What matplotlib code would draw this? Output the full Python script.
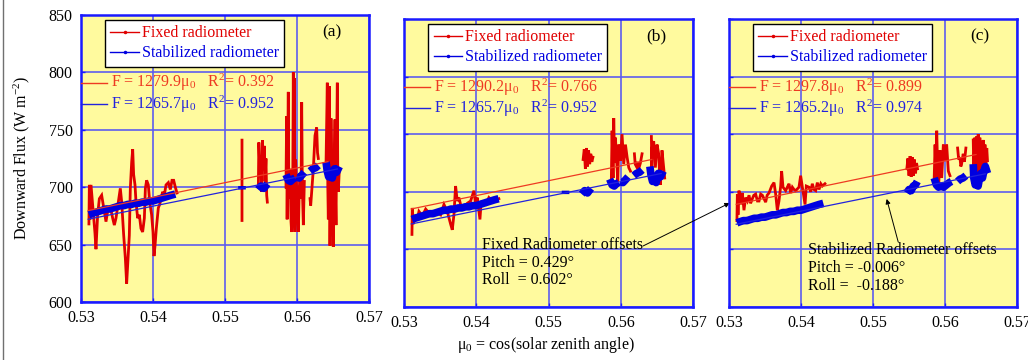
import numpy as np
import matplotlib
matplotlib.use("Agg")
import matplotlib.pyplot as plt
from matplotlib.lines import Line2D

plt.rcParams['font.family'] = ['Liberation Serif', 'DejaVu Serif']
plt.rcParams['mathtext.fontset'] = 'custom'
plt.rcParams['mathtext.rm'] = 'Liberation Serif'
plt.rcParams['mathtext.it'] = 'Liberation Serif:italic'

# ---------------- data ----------------
X_TICKS = [0.53, 0.54, 0.55, 0.56, 0.57]
Y_TICKS = [600, 650, 700, 750, 800, 850]
PANEL_LABELS = ['(a)', '(b)', '(c)']

FIXED_SLOPES = [1279.9, 1290.2, 1297.8]
FIXED_R2 = ['0.392', '0.766', '0.899']
STAB_SLOPES = [1265.7, 1265.7, 1265.2]
STAB_R2 = ['0.952', '0.952', '0.974']
FIT_RANGE_FIXED = [0.5310, 0.5643]
FIT_RANGE_STAB = [0.5310, 0.5656]

# Panel (a) fixed radiometer (segments of (mu0, flux))
FIXED_A = [
    [(0.53110, 668), (0.53116, 702), (0.53125, 672), (0.53139, 702), (0.53162, 684), (0.53194, 660),
     (0.53208, 646), (0.53231, 676), (0.53255, 690), (0.53287, 693), (0.53315, 682), (0.53347, 670),
     (0.53370, 679), (0.53407, 683), (0.53440, 673), (0.53463, 667), (0.53486, 673), (0.53519, 687),
     (0.53546, 699), (0.53565, 687), (0.53593, 658), (0.53616, 638), (0.53634, 616), (0.53648, 632),
     (0.53671, 658), (0.53685, 699), (0.53704, 722), (0.53718, 733), (0.53731, 711), (0.53750, 702),
     (0.53764, 687), (0.53787, 673), (0.53810, 676), (0.53833, 664), (0.53856, 661), (0.53880, 673),
     (0.53894, 699), (0.53912, 706), (0.53935, 702), (0.53954, 687), (0.53981, 676), (0.54000, 661),
     (0.54014, 640), (0.54028, 649), (0.54046, 664), (0.54074, 682), (0.54093, 685), (0.54111, 690),
     (0.54134, 696), (0.54157, 693), (0.54181, 702), (0.54213, 704), (0.54241, 698), (0.54264, 706),
     (0.54287, 706), (0.54310, 700), (0.54333, 695)],
    [(0.55236, 741), (0.55236, 671)],
    [(0.55463, 700), (0.55470, 739), (0.55486, 712), (0.55495, 728), (0.55509, 696), (0.55520, 741),
     (0.55532, 715), (0.55545, 736), (0.55556, 705), (0.55569, 725), (0.55579, 693), (0.55588, 687)],
    [(0.55847, 700), (0.55856, 762), (0.55863, 672), (0.55879, 783), (0.55887, 690), (0.55903, 716),
     (0.55917, 670), (0.55926, 661), (0.55940, 690), (0.55949, 800), (0.55956, 680), (0.55963, 795),
     (0.55972, 661), (0.55981, 724), (0.55995, 700), (0.56009, 690), (0.56019, 661), (0.56032, 700),
     (0.56042, 710), (0.56056, 690), (0.56065, 774), (0.56074, 700), (0.56088, 667), (0.56102, 705)],
    [(0.56181, 690), (0.56190, 684), (0.56204, 696), (0.56227, 716), (0.56250, 745), (0.56273, 752),
     (0.56285, 730), (0.56296, 725)],
    [(0.56403, 720), (0.56421, 791), (0.56428, 700), (0.56435, 672), (0.56449, 788), (0.56458, 649),
     (0.56472, 760), (0.56481, 725), (0.56495, 700), (0.56504, 648), (0.56518, 720), (0.56528, 759),
     (0.56535, 690), (0.56542, 667), (0.56551, 740), (0.56560, 791), (0.56567, 700), (0.56574, 696),
     (0.56588, 716)],
]

# Panels (a) and (b) stabilized radiometer
STAB_AB = [
    [(0.53110, 676), (0.53150, 677), (0.53200, 678), (0.53250, 679), (0.53300, 680), (0.53350, 681),
     (0.53400, 681), (0.53450, 682), (0.53500, 683), (0.53550, 684), (0.53600, 684), (0.53650, 685),
     (0.53700, 685), (0.53750, 686), (0.53800, 686), (0.53850, 687), (0.53900, 687), (0.53950, 688),
     (0.54000, 688), (0.54050, 689), (0.54100, 690), (0.54150, 691), (0.54200, 692), (0.54250, 693),
     (0.54310, 694)],
    [(0.55236, 698), (0.55236, 701)],
    [(0.55460, 698), (0.55500, 701), (0.55540, 699), (0.55588, 703)],
    [(0.55847, 711), (0.55880, 706), (0.55910, 705), (0.55940, 707), (0.55972, 708)],
    [(0.55995, 709), (0.56030, 708), (0.56060, 710), (0.56102, 713)],
    [(0.56181, 714), (0.56220, 716), (0.56260, 717), (0.56296, 719)],
    [(0.56403, 722), (0.56420, 714), (0.56440, 709), (0.56460, 712), (0.56490, 708), (0.56520, 716),
     (0.56550, 713), (0.56588, 718)],
]

# Panel (b) fixed radiometer
FIXED_B = [
    [(0.53110, 663), (0.53115, 686), (0.53129, 672), (0.53161, 680), (0.53184, 676), (0.53207, 683),
     (0.53253, 679), (0.53300, 685), (0.53369, 680), (0.53438, 683), (0.53507, 680), (0.53553, 689),
     (0.53599, 683), (0.53645, 672), (0.53668, 667), (0.53691, 680), (0.53714, 705), (0.53737, 692),
     (0.53760, 695), (0.53783, 689), (0.53829, 686), (0.53876, 690), (0.53922, 692), (0.53968, 701),
     (0.53991, 689), (0.54014, 695), (0.54051, 676), (0.54069, 692), (0.54088, 690), (0.54129, 689),
     (0.54175, 695), (0.54221, 692), (0.54267, 693), (0.54313, 694)],
    [(0.55479, 728), (0.55495, 737), (0.55510, 720), (0.55525, 738), (0.55540, 722), (0.55555, 736),
     (0.55570, 724), (0.55585, 733), (0.55600, 726), (0.55615, 730)],
    [(0.55870, 712), (0.55880, 753), (0.55894, 712), (0.55903, 764), (0.55915, 725), (0.55926, 747),
     (0.55949, 721), (0.55959, 709), (0.55972, 741), (0.55995, 727), (0.56018, 750), (0.56041, 724),
     (0.56065, 741), (0.56088, 730), (0.56111, 721), (0.56134, 718)],
    [(0.56189, 733), (0.56200, 724), (0.56217, 722), (0.56235, 726), (0.56249, 720), (0.56272, 725),
     (0.56295, 733)],
    [(0.56424, 748), (0.56430, 720), (0.56433, 738), (0.56456, 744), (0.56479, 721), (0.56502, 741),
     (0.56525, 733), (0.56540, 712), (0.56548, 706), (0.56571, 736), (0.56594, 721), (0.56608, 712)],
]

# Panel (c) fixed radiometer
FIXED_C = [
    [(0.53110, 675), (0.53116, 698), (0.53125, 680), (0.53139, 701), (0.53162, 689), (0.53185, 699),
     (0.53208, 684), (0.53231, 695), (0.53255, 692), (0.53278, 697), (0.53300, 690), (0.53324, 694),
     (0.53345, 697), (0.53370, 698), (0.53395, 692), (0.53417, 692), (0.53440, 698), (0.53463, 697),
     (0.53509, 691), (0.53530, 697), (0.53556, 699), (0.53593, 705), (0.53625, 708), (0.53648, 698),
     (0.53671, 684), (0.53694, 692), (0.53718, 705), (0.53731, 718), (0.53750, 704), (0.53787, 701),
     (0.53810, 704), (0.53833, 707), (0.53856, 699), (0.53880, 704), (0.53903, 702), (0.53926, 701),
     (0.53972, 704), (0.53995, 714), (0.54019, 704), (0.54056, 689), (0.54074, 705), (0.54111, 704),
     (0.54135, 700), (0.54157, 707), (0.54180, 702), (0.54204, 701), (0.54227, 708), (0.54250, 702),
     (0.54275, 707), (0.54296, 705), (0.54333, 707)],
    [(0.55470, 720), (0.55485, 729), (0.55500, 714), (0.55515, 731), (0.55530, 713), (0.55545, 730),
     (0.55560, 714), (0.55575, 728), (0.55590, 716), (0.55605, 725), (0.55618, 720)],
    [(0.55850, 712), (0.55862, 741), (0.55875, 712), (0.55885, 753), (0.55900, 715), (0.55912, 704),
     (0.55931, 736), (0.55954, 712), (0.55977, 741), (0.56000, 727), (0.56023, 741), (0.56046, 718),
     (0.56069, 714)],
    [(0.56175, 738), (0.56190, 728), (0.56207, 730), (0.56220, 722), (0.56230, 724), (0.56253, 733),
     (0.56270, 726), (0.56290, 738)],
    [(0.56392, 745), (0.56400, 720), (0.56415, 747), (0.56425, 716), (0.56438, 748), (0.56450, 714),
     (0.56461, 750), (0.56472, 716), (0.56484, 747), (0.56495, 712), (0.56507, 744), (0.56518, 718),
     (0.56530, 745), (0.56545, 720), (0.56555, 741), (0.56567, 722), (0.56580, 738), (0.56590, 727)],
]

# Panel (c) stabilized radiometer
STAB_C = [
    [(0.53110, 673), (0.53150, 674), (0.53200, 675), (0.53250, 675), (0.53300, 676), (0.53350, 677),
     (0.53400, 677), (0.53450, 678), (0.53500, 678), (0.53550, 679), (0.53600, 680), (0.53650, 680),
     (0.53700, 681), (0.53750, 682), (0.53800, 682), (0.53850, 683), (0.53900, 683), (0.53950, 684),
     (0.54000, 684), (0.54050, 685), (0.54100, 686), (0.54150, 687), (0.54200, 688), (0.54250, 689),
     (0.54310, 690)],
    [(0.55470, 699), (0.55500, 702), (0.55530, 701), (0.55560, 705), (0.55590, 706), (0.55615, 709)],
    [(0.55850, 712), (0.55880, 706), (0.55910, 704), (0.55940, 705), (0.55980, 704), (0.56020, 706),
     (0.56060, 708), (0.56090, 709)],
    [(0.56175, 709), (0.56210, 711), (0.56250, 712), (0.56290, 714)],
    [(0.56392, 724), (0.56400, 712), (0.56420, 706), (0.56440, 710), (0.56460, 705), (0.56480, 712),
     (0.56500, 716), (0.56520, 712), (0.56540, 718), (0.56560, 722), (0.56590, 716)],
]

FIXED_DATA = [FIXED_A, FIXED_B, FIXED_C]
STAB_DATA = [STAB_AB, STAB_AB, STAB_C]

# ---------------- styles ----------------
BG = '#fffa9e'
RED = '#e00000'
BLUE = '#0000e0'
FIT_RED = '#ee3a22'
FIT_BLUE = '#2222dd'
GRID = '#5a5af0'
SPINE = '#1a1aff'
FS = 11.5


def to_xy(segments):
    xs, ys = [], []
    for seg in segments:
        for x, y in seg:
            xs.append(x)
            ys.append(y)
        xs.append(np.nan)
        ys.append(np.nan)
    return np.array(xs), np.array(ys)


fig = plt.figure(figsize=(10.28, 3.6), dpi=100)
rects = [
    (81 / 1028, 1 - 302 / 360, 288 / 1028, 287 / 360),
    (404 / 1028, 1 - 307 / 360, 289 / 1028, 288 / 360),
    (729 / 1028, 1 - 307 / 360, 288 / 1028, 288 / 360),
]
axes = []
for i, r in enumerate(rects):
    ax = fig.add_axes(r)
    axes.append(ax)
    ax.set_facecolor(BG)
    ax.set_xlim(0.53, 0.57)
    ax.set_ylim(600, 850)
    ax.set_xticks(X_TICKS)
    ax.set_xticklabels([f'{t:.2f}' for t in X_TICKS], fontsize=FS)
    ax.set_yticks(Y_TICKS)
    if i == 0:
        ax.set_yticklabels([str(t) for t in Y_TICKS], fontsize=FS)
    else:
        ax.set_yticklabels([])
    ax.grid(True, color=GRID, lw=1.3, alpha=0.9)
    ax.set_axisbelow(True)
    for s in ax.spines.values():
        s.set_color(SPINE)
        s.set_linewidth(1.8)
    ax.tick_params(direction='in', color=SPINE, length=3, width=1, labelcolor='black', pad=6)

    fx, fy = to_xy(FIXED_DATA[i])
    sx, sy = to_xy(STAB_DATA[i])
    ax.plot(fx, fy, color=RED, lw=2.0, solid_joinstyle='miter', zorder=3)
    ax.plot(sx, sy, color=BLUE, lw=5.5, solid_capstyle='butt', zorder=4)

    # fit lines
    xr = np.array(FIT_RANGE_FIXED)
    ax.plot(xr, FIXED_SLOPES[i] * xr, color=FIT_RED, lw=0.9, zorder=5)
    xb = np.array(FIT_RANGE_STAB)
    ax.plot(xb, STAB_SLOPES[i] * xb, color=FIT_BLUE, lw=0.9, zorder=5)

    # fit "legend"
    ax.plot([0.530, 0.5336], [791, 791], color=FIT_RED, lw=1.0, clip_on=False, zorder=6)
    ax.plot([0.530, 0.5336], [772.5, 772.5], color=FIT_BLUE, lw=1.0, clip_on=False, zorder=6)
    ax.text(0.5342, 791, f'F = {FIXED_SLOPES[i]:.1f}μ$_0$   R$^2$= {FIXED_R2[i]}',
            color=FIT_RED, fontsize=FS, va='center', ha='left', zorder=6)
    ax.text(0.5342, 772.5, f'F = {STAB_SLOPES[i]:.1f}μ$_0$   R$^2$= {STAB_R2[i]}',
            color=FIT_BLUE, fontsize=FS, va='center', ha='left', zorder=6)

    handles = [Line2D([], [], color=RED, lw=1.0, marker='.', markersize=3),
               Line2D([], [], color=BLUE, lw=1.0, marker='.', markersize=3)]
    leg = ax.legend(handles, ['Fixed radiometer', 'Stabilized radiometer'],
                    loc='upper left', bbox_to_anchor=(0.083, 0.983), borderaxespad=0,
                    fontsize=FS, frameon=True, fancybox=False, framealpha=1,
                    edgecolor='black', handlelength=1.8, handletextpad=0.15,
                    labelspacing=0.25, borderpad=0.35)
    leg.get_frame().set_linewidth(1.0)
    leg.set_zorder(7)
    for t, c in zip(leg.get_texts(), [RED, BLUE]):
        t.set_color(c)

    ax.text(0.872, 0.94, PANEL_LABELS[i], transform=ax.transAxes, fontsize=12.5,
            ha='center', va='center', zorder=6)

axa, axb, axc = axes

# annotations
axb.text(0.5408, 661, 'Fixed Radiometer offsets\nPitch = 0.429°\nRoll  = 0.602°',
         fontsize=FS, ha='left', va='top', linespacing=1.15, zorder=6)
axb.annotate('', xy=(0.5301, 690.3), xycoords=axc.transData,
             xytext=(0.5631, 653), textcoords=axb.transData,
             arrowprops=dict(arrowstyle='-|>', color='black', lw=0.7, mutation_scale=7,
                             shrinkA=0, shrinkB=0),
             annotation_clip=False, zorder=8)

axc.text(0.5410, 656, 'Stabilized Radiometer offsets\nPitch = -0.006°\nRoll =  -0.188°',
         fontsize=FS, ha='left', va='top', linespacing=1.15, zorder=6)
axc.annotate('', xy=(0.5519, 693.8), xytext=(0.5535, 656.5),
             arrowprops=dict(arrowstyle='-|>', color='black', lw=0.7, mutation_scale=7,
                             shrinkA=0, shrinkB=0), zorder=8)

fig.text(22 / 1028, 1 - 158 / 360, 'Downward Flux (W m$^{-2}$)', rotation=90,
         fontsize=FS, ha='center', va='center')
fig.text(546 / 1028, 1 - 345 / 360, 'μ$_0$ = cos(solar zenith angle)',
         fontsize=FS, ha='center', va='center')

fig.add_artist(Line2D([2.5 / 1028, 2.5 / 1028], [0, 1], transform=fig.transFigure,
                      color='#707070', lw=1.0))

fig.savefig('out.png', dpi=100, facecolor='white')
